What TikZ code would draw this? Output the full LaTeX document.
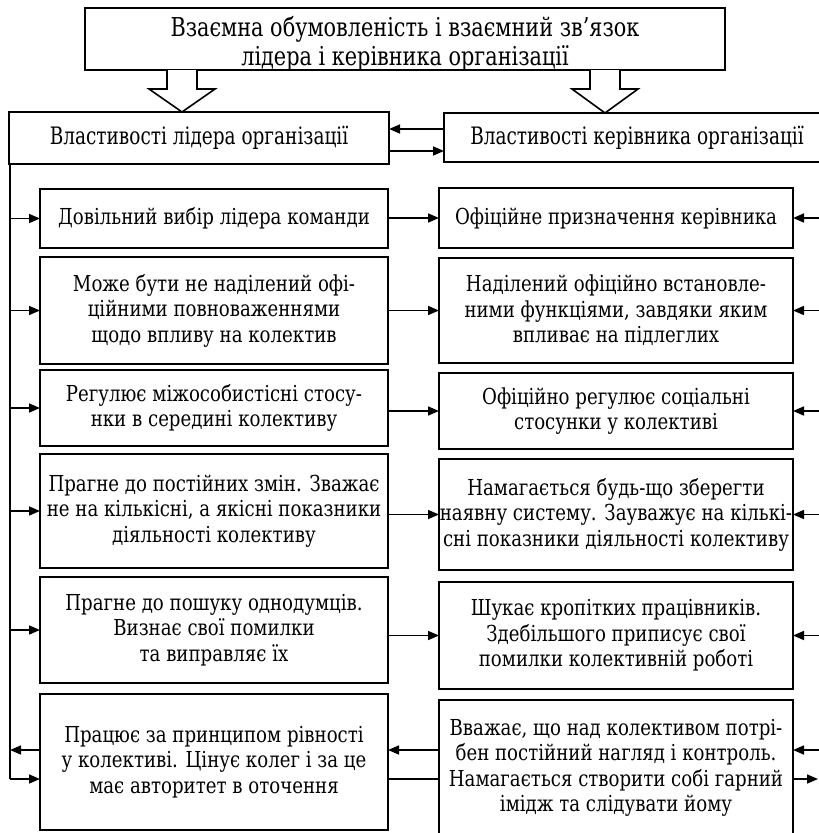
\documentclass[tikz,border=0pt]{standalone}
\usepackage{fontspec}
\setmainfont{DejaVu Serif}[FakeStretch=0.825]
\newfontfamily\topfont{DejaVu Serif}[FakeStretch=0.80]
\newfontfamily\headfont{DejaVu Serif}[FakeStretch=0.77]
\usetikzlibrary{arrows.meta,calc}
\begin{document}
\begin{tikzpicture}[x=1pt,y=-1pt,
  box/.style={draw, line width=1.8pt, align=center, inner sep=0pt, outer sep=0pt,
    font=\fontsize{22}{25.5}\selectfont},
  topbox/.style={box},
  toptextstyle/.style={align=center, inner sep=0pt, font=\topfont\fontsize{26}{29}\selectfont},
  headbox/.style={box, font=\headfont\fontsize{24}{29}\selectfont},
  lbox/.style={box, minimum width=348pt},
  rbox/.style={box, minimum width=354pt},
  conn/.style={line width=1.6pt},
  arr/.style={conn, -{Triangle[length=11pt,width=9pt]}},
  hollow/.style={draw, fill=white, line width=1.6pt, line join=miter}]
\useasboundingbox (0,0) rectangle (819,833);

% title and headers
\node[topbox, minimum width=640pt, minimum height=62pt] (top) at (405,39) {};
\node[toptextstyle] (toptext) at (405,43.5)
  {Взаємна обумовленість і взаємний зв’язок\\лідера і керівника організації};
\node[headbox, minimum width=380pt, minimum height=52pt] (LH) at (199,138)
  {Властивості лідера організації};
\node[headbox, minimum width=386pt, minimum height=49pt] (RH) at (637,137.5)
  {Властивості керівника організації};

% hollow block arrows
\draw[hollow] (167,70) -- (167,89) -- (149,89) -- (182,112) -- (215,89) -- (197,89) -- (197,70);
\draw[hollow] (590,70) -- (590,89) -- (572,89) -- (605,113) -- (638,89) -- (620,89) -- (620,70);

% left column
\node[lbox, minimum height=59pt]  (L1) at (214,218.5) {Довільний вибір лідера команди};
\node[lbox, minimum height=107pt] (L2) at (214,310.5) {Може бути не наділений офі-\\ційними повноваженнями\\щодо впливу на колектив};
\node[lbox, minimum height=76pt]  (L3) at (214,408) {Регулює міжособистісні стосу-\\нки в середині колективу};
\node[lbox, minimum height=114pt] (L4) at (214,511) {Прагне до постійних змін. Зважає\\не на кількісні, а якісні показники\\діяльності колективу};
\node[lbox, minimum height=106pt] (L5) at (214,630) {Прагне до пошуку однодумців.\\Визнає свої помилки\\та виправляє їх};
\node[lbox, minimum height=136pt] (L6) at (214,762) {Працює за принципом рівності\\у колективі. Цінує колег і за це\\має авторитет в оточення};

% right column
\node[rbox, minimum height=60pt]  (R1) at (616,218) {Офіційне призначення керівника};
\node[rbox, minimum height=105pt] (R2) at (616,310.5) {Наділений офіційно встановле-\\ними функціями, завдяки яким\\впливає на підлеглих};
\node[rbox, minimum height=76pt]  (R3) at (616,411) {Офіційно регулює соціальні\\стосунки у колективі};
\node[rbox, minimum height=111pt] (R4) at (616,514.5) {Намагається будь-що зберегти\\наявну систему. Зауважує на кількі-\\сні показники діяльності колективу};
\node[rbox, minimum height=107pt] (R5) at (616,635.5) {Шукає кропітких працівників.\\Здебільшого приписує свої\\помилки колективній роботі};
\node[rbox, minimum height=136pt] (R6) at (616,768) {Вважає, що над колективом потрі-\\бен постійний нагляд і контроль.\\Намагається створити собі гарний\\імідж та слідувати йому};

% header connectors
\coordinate (hu) at (0,129);
\coordinate (hd) at (0,151);
\draw[arr] (RH.west |- hu) -- (LH.east |- hu);
\draw[arr] (LH.east |- hd) -- (RH.west |- hd);

% left bus
\coordinate (vb) at (10,779);
\coordinate (va) at (10,750);
\draw[conn] (LH.south -| vb) -- (vb);
\foreach \n in {L1,L2,L3,L4,L5}
  \draw[arr] (vb |- \n.west) -- (\n.west);
\draw[arr] (L6.west |- va) -- (va);
\draw[arr] (vb) -- (L6.west |- vb);

% left to right
\foreach \i in {1,2,3,4,5}
  \draw[arr] (L\i.east |- R\i.west) -- (R\i.west);
\draw[arr] (R6.west |- va) -- (L6.east |- va);
\draw[conn] (L6.east |- vb) -- (R6.west |- vb);

% right side stubs
\coordinate (re) at (819,0);
\coordinate (rx) at (818,0);
\foreach \n in {R1,R2,R3,R4,R5}
  \draw[arr] (re |- \n.east) -- (\n.east);
\draw[arr] (re |- va) -- (R6.east |- va);
\draw[arr] (R6.east |- vb) -- (rx |- vb);
\end{tikzpicture}
\end{document}
